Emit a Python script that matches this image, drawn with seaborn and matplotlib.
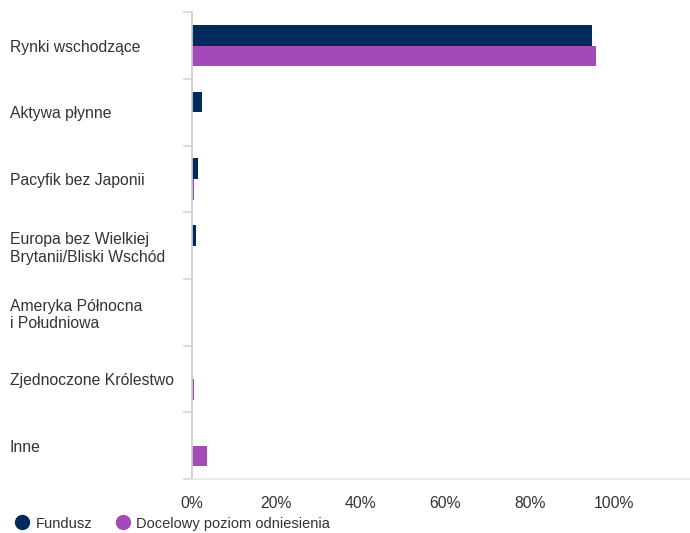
import pandas as pd
import seaborn as sns
import matplotlib.pyplot as plt
from matplotlib.lines import Line2D
from matplotlib.ticker import FixedLocator, PercentFormatter

categories = [
    "Rynki wschodzące",
    "Aktywa płynne",
    "Pacyfik bez Japonii",
    "Europa bez Wielkiej\nBrytanii/Bliski Wschód",
    "Ameryka Północna\ni Południowa",
    "Zjednoczone Królestwo",
    "Inne",
]
fund = [94.8, 2.3, 1.4, 0.9, 0.0, 0.0, 0.0]
benchmark = [95.7, 0.0, 0.5, 0.0, 0.0, 0.5, 3.5]
series_names = ["Fundusz", "Docelowy poziom odniesienia"]
colors = ["#002B5C", "#A449B8"]

df = pd.DataFrame({
    "cat": categories * 2,
    "val": fund + benchmark,
    "series": [series_names[0]] * len(categories) + [series_names[1]] * len(categories),
})

sns.set_theme(style="white")
plt.rcParams["font.family"] = ["Liberation Sans", "DejaVu Sans"]

fig = plt.figure(figsize=(6.9, 5.33), dpi=100)
ax = fig.add_axes([0.278, 0.101, 0.722, 0.876])

sns.barplot(data=df, y="cat", x="val", hue="series", palette=colors,
            orient="h", width=0.62, gap=0, saturation=1, legend=False,
            linewidth=0, ax=ax)

ax.set_xlim(0, 118)
ax.set_ylim(len(categories) - 0.5, -0.5)
ax.set_xticks([0, 20, 40, 60, 80, 100])
ax.xaxis.set_major_formatter(PercentFormatter(decimals=0))
ax.set_xlabel("")
ax.set_ylabel("")

# category labels, left-aligned near figure edge
ax.set_yticks(range(len(categories)))
ax.set_yticklabels(categories, ha="left", fontsize=11.3, color="#333333")
ax.tick_params(axis="y", which="major", length=0, pad=131)
ax.yaxis.set_minor_locator(FixedLocator([i - 0.5 for i in range(len(categories) + 1)]))
ax.tick_params(axis="y", which="minor", length=6.5, width=1.2, color="#ccd6eb", left=True)

ax.tick_params(axis="x", length=0, pad=12, labelsize=11.3, labelcolor="#333333")

for s in ["top", "right"]:
    ax.spines[s].set_visible(False)
ax.spines["left"].set_color("#cccccc")
ax.spines["bottom"].set_color("#e6e6e6")

handles = [Line2D([], [], marker="o", linestyle="", markersize=10,
                  markerfacecolor=c, markeredgecolor=c) for c in colors]
fig.legend(handles, series_names, loc="lower left", bbox_to_anchor=(0.003, -0.02),
           ncol=2, frameon=False, fontsize=10.5, handletextpad=0.4,
           columnspacing=1.6, handlelength=1.0, labelcolor="#333333")

fig.savefig("out.png", dpi=100)
